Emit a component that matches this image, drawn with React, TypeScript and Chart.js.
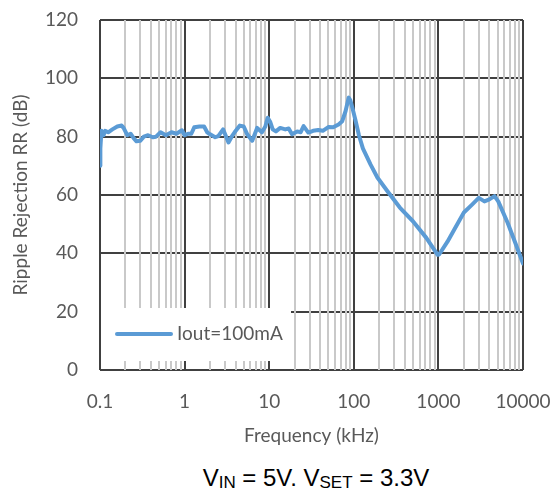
import React, { useEffect, useLayoutEffect, useRef } from "react";
import { Chart, registerables } from "chart.js";

Chart.register(...registerables);

const freqKHz = [
  0.1, 0.101, 0.104, 0.11, 0.115, 0.125, 0.14, 0.16, 0.18, 0.19, 0.21, 0.23, 0.25, 0.27, 0.3, 0.33,
  0.37, 0.42, 0.46, 0.52, 0.6, 0.7, 0.8, 0.93, 1.0, 1.1, 1.2, 1.3, 1.5, 1.7, 1.85, 2.0, 2.3, 2.5,
  2.85, 3.1, 3.3, 3.6, 3.9, 4.5, 5.0, 5.5, 6.3, 7.2, 8.2, 9.0, 9.6, 10.3, 11, 12, 13.5, 15.5, 17,
  18.6, 21.4, 23.5, 25.5, 29, 33, 38, 43, 50, 57, 66, 73, 80, 87, 91, 96, 104, 115, 128, 158, 190,
  250, 350, 500, 720, 980, 1020, 1280, 1530, 2000, 2500, 3000, 3500, 4000, 4600, 5100, 6600, 8100,
  10000,
];
const rrDb = [
  70, 76, 82, 80.5, 82, 81.5, 82.5, 83.5, 83.8, 83, 80.5, 81, 79.5, 78.4, 78.6, 80, 80.5, 79.8, 80,
  81.5, 80.5, 81.5, 81, 82.2, 80.5, 81, 81, 83.2, 83.5, 83.5, 81.5, 80.8, 79.8, 80.2, 82.5, 80, 78,
  80, 81.5, 83.8, 83.5, 80.8, 78.6, 83, 81.5, 83.5, 86.5, 85, 82.5, 81.8, 83, 82.5, 82.8, 80.8,
  81.8, 81.5, 83.6, 81.4, 82, 82.3, 82, 83.3, 83.2, 84.2, 85.3, 88.8, 93.4, 92.5, 90, 86, 80.5, 76,
  70.4, 66, 61.3, 55.7, 51, 45.3, 39.5, 39.6, 44, 48, 54, 56.7, 59, 57.8, 58.5, 59.6, 57.8, 50.4,
  43.6, 36.5,
];
const seriesLabel = "Iout=100mA";
const xTickLabels = ["0.1", "1", "10", "100", "1000", "10000"];
const yMin = 0;
const yMax = 120;
const yStep = 20;
const xTitle = "Frequency (kHz)";
const yTitle = "Ripple Rejection RR (dB)";

const LINE_COLOR = "#5B9BD5";
const TEXT_COLOR = "#595959";
const MAJOR_GRID = "#404040";
const MINOR_GRID = "#c9c9c9";
const FONT = "Lato, 'Open Sans', sans-serif";

const isDecade = (v: number) => Math.abs(Math.log10(v) - Math.round(Math.log10(v))) < 1e-6;

const legendPlugin = {
  id: "insideLegend",
  afterDraw(chart: any) {
    const { ctx, chartArea } = chart;
    const left = chartArea.left + 1;
    const right = chartArea.left + 191;
    const top = chartArea.bottom - 62;
    const bottom = chartArea.bottom - 9;
    ctx.save();
    ctx.fillStyle = "#ffffff";
    ctx.fillRect(left, top, right - left, bottom - top);
    const y = bottom - 27;
    ctx.strokeStyle = LINE_COLOR;
    ctx.lineWidth = 4;
    ctx.lineCap = "round";
    ctx.beginPath();
    ctx.moveTo(left + 16, y);
    ctx.lineTo(left + 70, y);
    ctx.stroke();
    ctx.fillStyle = TEXT_COLOR;
    ctx.font = `19px ${FONT}`;
    ctx.textBaseline = "middle";
    ctx.textAlign = "left";
    ctx.fillText(chart.data.datasets[0].label, left + 76, y);
    ctx.restore();
  },
};

export default function App() {
  const ref = useRef<HTMLCanvasElement>(null);

  useLayoutEffect(() => {
    document.body.style.marginRight = "0px";
  }, []);

  useEffect(() => {
    if (!ref.current) return;
    const chart = new Chart(ref.current, {
      type: "line",
      data: {
        datasets: [
          {
            label: seriesLabel,
            data: freqKHz.map((f, i) => ({ x: f, y: rrDb[i] })),
            borderColor: LINE_COLOR,
            backgroundColor: LINE_COLOR,
            borderWidth: 4,
            pointRadius: 0,
            tension: 0,
            borderJoinStyle: "round",
            borderCapStyle: "round",
          },
        ],
      },
      options: {
        animation: false,
        responsive: false,
        layout: { padding: { left: 0, top: 12, right: 32, bottom: 0 } },
        plugins: {
          legend: { display: false },
          tooltip: { enabled: false },
        },
        scales: {
          y: {
            type: "linear",
            min: yMin,
            max: yMax,
            afterFit: (s: any) => {
              s.width = 92;
              s.paddingTop = 0;
              s.paddingBottom = 0;
            },
            ticks: {
              stepSize: yStep,
              color: TEXT_COLOR,
              font: { family: FONT, size: 19 },
              padding: 22,
            },
            grid: { color: MAJOR_GRID, lineWidth: 2, drawTicks: false },
            border: { display: false },
            title: {
              display: true,
              text: yTitle,
              color: TEXT_COLOR,
              font: { family: FONT, size: 19 },
              padding: { top: 1, bottom: 0 },
            },
          },
          x: {
            type: "logarithmic",
            min: 0.1,
            max: 10000,
            afterFit: (s: any) => {
              s.height = 90;
              s.paddingLeft = 0;
              s.paddingRight = 0;
            },
            afterBuildTicks: (s: any) => {
              const ticks: any[] = [];
              for (let e = -1; e <= 3; e++) {
                for (let d = 1; d <= 9; d++) {
                  ticks.push({ value: Number((d * Math.pow(10, e)).toPrecision(6)) });
                }
              }
              ticks.push({ value: 10000 });
              s.ticks = ticks;
            },
            ticks: {
              autoSkip: false,
              maxRotation: 0,
              minRotation: 0,
              color: TEXT_COLOR,
              font: { family: FONT, size: 19 },
              padding: 20,
              callback: (value: any) => {
                const v = Number(value);
                const lbl = xTickLabels.find(
                  (l) => Math.abs(Math.log10(Number(l)) - Math.log10(v)) < 1e-6
                );
                return lbl ?? "";
              },
            },
            grid: {
              color: (c: any) => (c.tick && isDecade(c.tick.value) ? MAJOR_GRID : MINOR_GRID),
              lineWidth: 2,
              drawTicks: false,
            },
            border: { display: false },
            title: {
              display: true,
              text: xTitle,
              color: TEXT_COLOR,
              font: { family: FONT, size: 19 },
              padding: { top: 0, bottom: 13 },
            },
          },
        },
      } as any,
      plugins: [legendPlugin],
    });
    return () => chart.destroy();
  }, []);

  return (
    <div style={{ position: "relative", width: 547, height: 482 }}>
      <canvas ref={ref} width={547} height={452} style={{ display: "block", width: 547, height: 452 }} />
      <div
        style={{
          position: "absolute",
          left: 108,
          top: 457,
          width: 400,
          textAlign: "center",
          fontFamily: "'Liberation Sans', Arial, sans-serif",
          fontSize: 24,
          color: "#000",
          whiteSpace: "nowrap",
          lineHeight: "26px",
        }}
      >
        V<span style={{ fontSize: 17, verticalAlign: -2 }}>IN</span> = 5V. V
        <span style={{ fontSize: 17, verticalAlign: -2 }}>SET</span> = 3.3V
      </div>
    </div>
  );
}
